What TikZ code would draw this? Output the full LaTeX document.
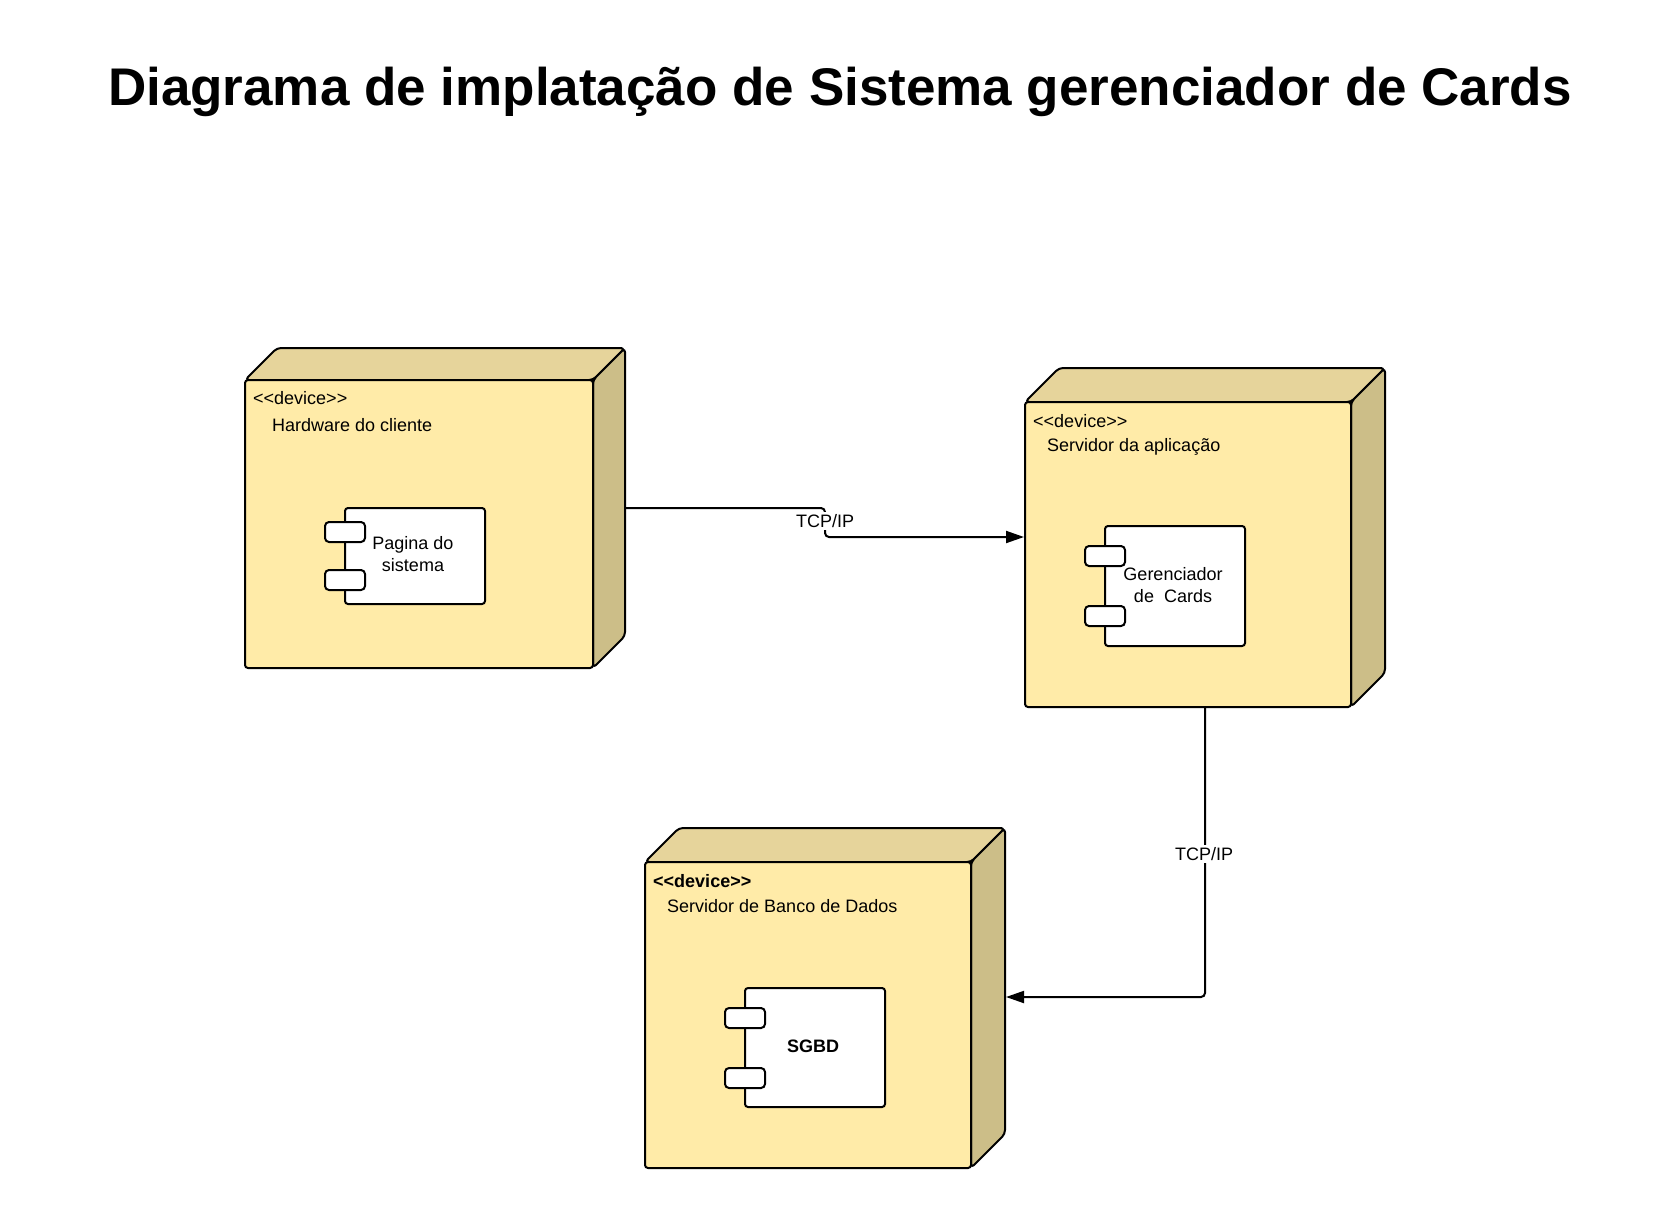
\documentclass[tikz,border=0pt]{standalone}
\usepackage{fontspec}
\setmainfont{Liberation Sans}
\usetikzlibrary{arrows.meta}
\definecolor{frontc}{RGB}{255,235,168}
\definecolor{topc}{RGB}{230,212,155}
\definecolor{sidec}{RGB}{204,190,136}
\newcommand\stereo{<\kern0pt<device>\kern0pt>}
\tikzset{
  edge/.style={line width=2pt, line join=round},
  facefront/.style={draw, line width=2pt, fill=frontc, rounded corners=3pt, inner sep=0pt},
  compbox/.style={draw, line width=2pt, fill=white, rounded corners=3pt, inner sep=0pt},
  portbox/.style={draw, line width=2pt, fill=white, rounded corners=4pt, inner sep=0pt, minimum width=40pt, minimum height=20pt},
  lbl/.style={inner sep=0pt, anchor=west, font=\fontsize{18}{21}\selectfont},
  comptext/.style={inner sep=0pt, align=center, font=\fontsize{18}{22}\selectfont},
  conn/.style={line width=2pt, rounded corners=4pt, -{Triangle[length=18pt,width=12pt]}},
  connlbl/.style={fill=white, inner sep=2pt, font=\fontsize{18}{21}\selectfont},
}
% #1 name, #2 x1, #3 y1, #4 x2, #5 y2, #6 depth
\newcommand\mydevice[6]{%
  \draw[edge, fill=topc, rounded corners=4pt] (#2,#3) -- ({#2+#6},{#3-#6}) -- ({#4+#6},{#3-#6}) -- (#4,#3) -- cycle;
  \draw[edge, fill=sidec, rounded corners=4pt] (#4,#3) -- ({#4+#6},{#3-#6}) -- ({#4+#6},{#5-#6}) -- (#4,#5) -- cycle;
  \node[facefront, minimum width={#4-#2}, minimum height={#5-#3}] (#1) at ({(#2+#4)/2},{(#3+#5)/2}) {};
}
% #1 name, #2 x1, #3 y1, #4 x2, #5 y2, #6 port1 top, #7 port2 top
\newcommand\mycomp[7]{%
  \node[compbox, minimum width={#4-#2}, minimum height={#5-#3}] (#1) at ({(#2+#4)/2},{(#3+#5)/2}) {};
  \node[portbox] (#1p1) at (#2,{#6+10}) {};
  \node[portbox] (#1p2) at (#2,{#7+10}) {};
}
\begin{document}
\begin{tikzpicture}[x=1pt,y=-1pt]
\useasboundingbox (0,0) rectangle (1680,1208);

\node[inner sep=0pt, font=\fontsize{53}{62}\selectfont\bfseries] (title) at (840,92) {Diagrama de implatação de Sistema gerenciador de Cards};

% devices
\mydevice{dev1}{245}{380}{593}{668}{32}
\mydevice{dev2}{1025}{402}{1351}{707}{34}
\mydevice{dev3}{645}{862}{971}{1168}{34}

\node[lbl] (dev1st) at (253,398) {\stereo};
\node[lbl] (dev1nm) at (272,425) {Hardware do cliente};
\node[lbl] (dev2st) at (1033,421) {\stereo};
\node[lbl] (dev2nm) at (1047,447) {Servidor da aplicação};
\node[lbl, font=\fontsize{18}{21}\selectfont\bfseries] (dev3st) at (653,881) {\stereo};
\node[lbl] (dev3nm) at (667,906) {Servidor de Banco de Dados};

% components
\mycomp{comp1}{345}{508}{485}{604}{522}{570}
\node[comptext] (comp1t) at (413,554) {Pagina do\\sistema};
\mycomp{comp2}{1105}{526}{1245}{646}{546}{606}
\node[comptext] (comp2t) at (1173,585) {Gerenciador\\de~~Cards};
\mycomp{comp3}{745}{988}{885}{1107}{1008}{1068}
\node[comptext, font=\fontsize{18}{22}\selectfont\bfseries] (comp3t) at (813,1046) {SGBD};

% connectors
\coordinate (d1out) at (625,508);
\coordinate (d3in) at (1006,997);
\draw[conn] (d1out) -- (825,508) -- (825,537) -- (dev2.west |- 0,537);
\node[connlbl] (tcp1) at (825,521) {TCP/IP};
\draw[conn] (dev2.south -| 1205,0) -- (1205,997) -- (d3in);
\node[connlbl] (tcp2) at (1204,854) {TCP/IP};
\end{tikzpicture}
\end{document}
